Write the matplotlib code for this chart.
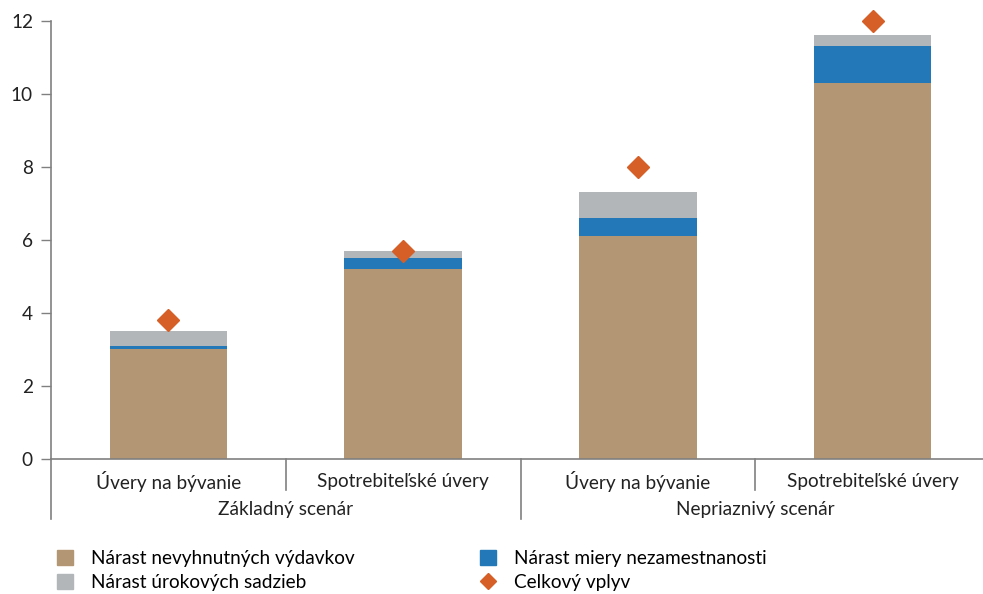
import matplotlib.pyplot as plt
import matplotlib.transforms as mtransforms
from matplotlib.lines import Line2D
from matplotlib.patches import Patch

plt.rcParams['font.family'] = ['Lato', 'DejaVu Sans']

# data
kategorie = ["Úvery na bývanie", "Spotrebiteľské úvery", "Úvery na bývanie", "Spotrebiteľské úvery"]
scenare = ["Základný scenár", "Nepriaznivý scenár"]
vydavky = [3.0, 5.2, 6.1, 10.3]
nezamestnanost = [0.1, 0.3, 0.5, 1.0]
sadzby = [0.4, 0.2, 0.7, 0.3]
celkovy = [3.8, 5.7, 8.0, 12.0]

c_brown = "#B39673"
c_blue = "#2378B8"
c_grey = "#B2B6B9"
c_orange = "#D65F27"
c_axis = "#808080"
c_text = "#222222"
fs = 13.7

fig = plt.figure(figsize=(9.83, 5.94), dpi=100)
ax = fig.add_axes([0.0519, 0.2273, 0.9481, 0.7379])

x = list(range(len(kategorie)))
w = 0.5
bottom2 = [a + b for a, b in zip(vydavky, nezamestnanost)]
ax.bar(x, vydavky, width=w, color=c_brown, zorder=2)
ax.bar(x, nezamestnanost, width=w, bottom=vydavky, color=c_blue, zorder=2)
ax.bar(x, sadzby, width=w, bottom=bottom2, color=c_grey, zorder=2)
ax.plot(x, celkovy, linestyle="none", marker="D", markersize=11, color=c_orange,
        zorder=3, clip_on=False)

ax.set_xlim(-0.5, 3.47)
ax.set_ylim(0, 12)
ax.set_yticks(range(0, 13, 2))
ax.set_xticks([])

for s in ["top", "right"]:
    ax.spines[s].set_visible(False)
for s in ["left", "bottom"]:
    ax.spines[s].set_color(c_axis)
    ax.spines[s].set_linewidth(1.2)
ax.tick_params(axis="y", length=7, width=1.0, color=c_axis, labelsize=fs, pad=6, labelcolor=c_text)

# category labels and separators
trans = mtransforms.blended_transform_factory(ax.transData, ax.transAxes)
for i, k in enumerate(kategorie):
    ax.text(i, -0.051, k, transform=trans, ha="center", va="center", fontsize=fs, color=c_text)
for j, s in enumerate(scenare):
    ax.text(2 * j + 0.5, -0.116, s, transform=trans, ha="center", va="center", fontsize=fs, color=c_text)

for xs in [0.5, 2.5]:
    ax.plot([xs, xs], [0, -0.071], transform=trans, color=c_axis, lw=1.2, clip_on=False)
for xs in [-0.5, 1.5]:
    ax.plot([xs, xs], [0, -0.137], transform=trans, color=c_axis, lw=1.2, clip_on=False)

handles = [
    Patch(color=c_brown, label="Nárast nevyhnutných výdavkov"),
    Patch(color=c_grey, label="Nárast úrokových sadzieb"),
    Patch(color=c_blue, label="Nárast miery nezamestnanosti"),
    Line2D([], [], linestyle="none", marker="D", markersize=8, color=c_orange, label="Celkový vplyv"),
]
fig.legend(handles=handles, loc="upper left", bbox_to_anchor=(0.05, 0.087), ncol=2,
           frameon=False, fontsize=fs, handlelength=0.85, handleheight=0.85,
           handletextpad=0.95, columnspacing=6.6, labelspacing=0.35, borderaxespad=0)

fig.savefig("out.png", dpi=100)
